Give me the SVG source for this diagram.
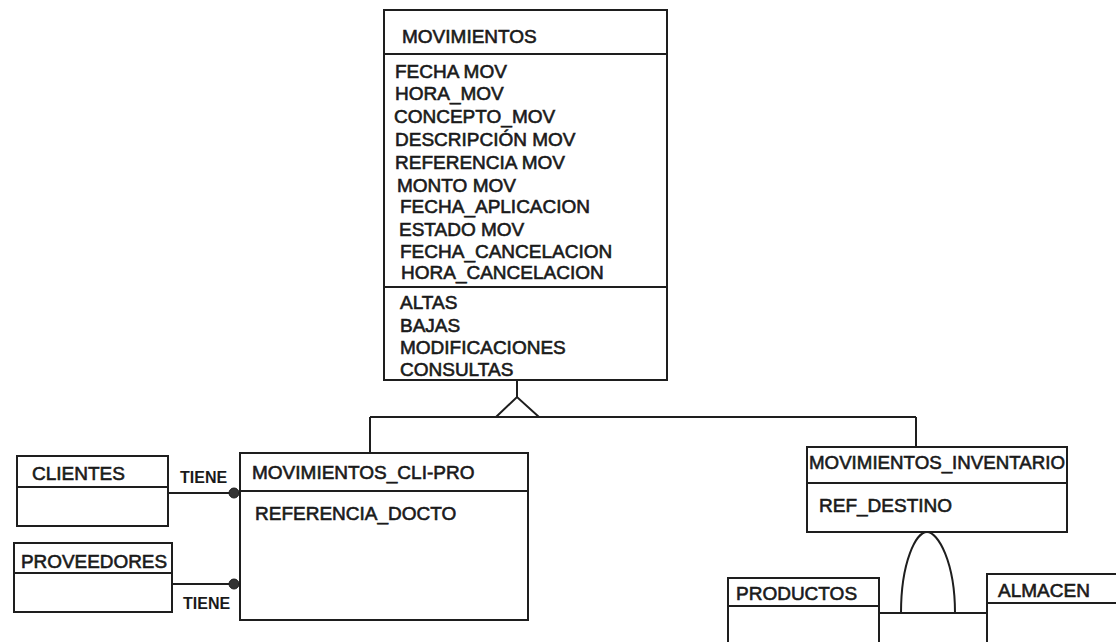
<svg xmlns="http://www.w3.org/2000/svg" width="1116" height="642" viewBox="0 0 1116 642">
<style>
.box{fill:#fff;stroke:#1e1e1e;stroke-width:2}
.sep{stroke:#1e1e1e;stroke-width:2}
.ln{fill:none;stroke:#1e1e1e;stroke-width:2}
.t{font-family:"Liberation Sans",Arial,sans-serif;font-size:19px;fill:#1a1a1a;stroke:#1a1a1a;stroke-width:0.6}
.s{font-family:"Liberation Sans",Arial,sans-serif;font-size:16px;font-weight:bold;fill:#1a1a1a}
.dot{fill:#333;stroke:#1e1e1e;stroke-width:1}
</style>
<rect width="1116" height="642" fill="#fff"/>
<g id="connectors">
<line class="ln" x1="517" y1="380" x2="517" y2="397"/>
<polygon class="ln" points="496,417 517,397 539,417"/>
<line class="ln" x1="370" y1="417" x2="916" y2="417"/>
<line class="ln" x1="370" y1="417" x2="370" y2="453"/>
<line class="ln" x1="916" y1="417" x2="916" y2="447"/>
<line class="ln" x1="168" y1="493" x2="240" y2="493"/>
<circle class="dot" cx="234" cy="493" r="5"/>
<text class="s" x="180" y="483">TIENE</text>
<line class="ln" x1="172" y1="584" x2="240" y2="584"/>
<circle class="dot" cx="234" cy="584" r="5"/>
<text class="s" x="183" y="609">TIENE</text>
<path class="ln" d="M901,613 C901,562 916,532 927,532 C938,532 955,562 955,613"/>
<line class="ln" x1="879" y1="613" x2="987" y2="613"/>
</g>
<g id="movimientos">
<rect class="box" x="384" y="10" width="283" height="370"/>
<line class="sep" x1="384" y1="54" x2="667" y2="54"/>
<line class="sep" x1="384" y1="287" x2="667" y2="287"/>
<text class="t" x="402" y="43">MOVIMIENTOS</text>
<text class="t" x="395" y="78">FECHA MOV</text>
<text class="t" x="395" y="100">HORA_MOV</text>
<text class="t" x="394" y="123">CONCEPTO_MOV</text>
<text class="t" x="395" y="146">DESCRIPCIÓN MOV</text>
<text class="t" x="395" y="169">REFERENCIA MOV</text>
<text class="t" x="397" y="192">MONTO MOV</text>
<text class="t" x="400" y="213">FECHA_APLICACION</text>
<text class="t" x="399" y="236">ESTADO MOV</text>
<text class="t" x="400" y="258">FECHA_CANCELACION</text>
<text class="t" x="401" y="279">HORA_CANCELACION</text>
<text class="t" x="400" y="309">ALTAS</text>
<text class="t" x="400" y="332">BAJAS</text>
<text class="t" x="400" y="354">MODIFICACIONES</text>
<text class="t" x="400" y="376">CONSULTAS</text>
</g>
<g id="clientes">
<rect class="box" x="17" y="456" width="151" height="70"/>
<line class="sep" x1="17" y1="487" x2="168" y2="487"/>
<text class="t" x="32" y="480">CLIENTES</text>
</g>
<g id="proveedores">
<rect class="box" x="14" y="543" width="158" height="69"/>
<line class="sep" x1="14" y1="573" x2="172" y2="573"/>
<text class="t" x="21" y="568" textLength="146" lengthAdjust="spacingAndGlyphs">PROVEEDORES</text>
</g>
<g id="movimientos_cli_pro">
<rect class="box" x="240" y="453" width="288" height="167"/>
<line class="sep" x1="240" y1="491" x2="528" y2="491"/>
<text class="t" x="252" y="479">MOVIMIENTOS_CLI-PRO</text>
<text class="t" x="255" y="520">REFERENCIA_DOCTO</text>
</g>
<g id="movimientos_inventario">
<rect class="box" x="807" y="447" width="260" height="85"/>
<line class="sep" x1="807" y1="483" x2="1067" y2="483"/>
<text class="t" x="809" y="469" textLength="256" lengthAdjust="spacingAndGlyphs">MOVIMIENTOS_INVENTARIO</text>
<text class="t" x="819" y="512">REF_DESTINO</text>
</g>
<g id="productos">
<rect class="box" x="728" y="578" width="151" height="80"/>
<line class="sep" x1="728" y1="606" x2="879" y2="606"/>
<text class="t" x="736" y="600">PRODUCTOS</text>
</g>
<g id="almacen">
<rect class="box" x="987" y="574" width="140" height="80"/>
<line class="sep" x1="987" y1="603" x2="1116" y2="603"/>
<text class="t" x="998" y="597">ALMACEN</text>
</g>
</svg>
